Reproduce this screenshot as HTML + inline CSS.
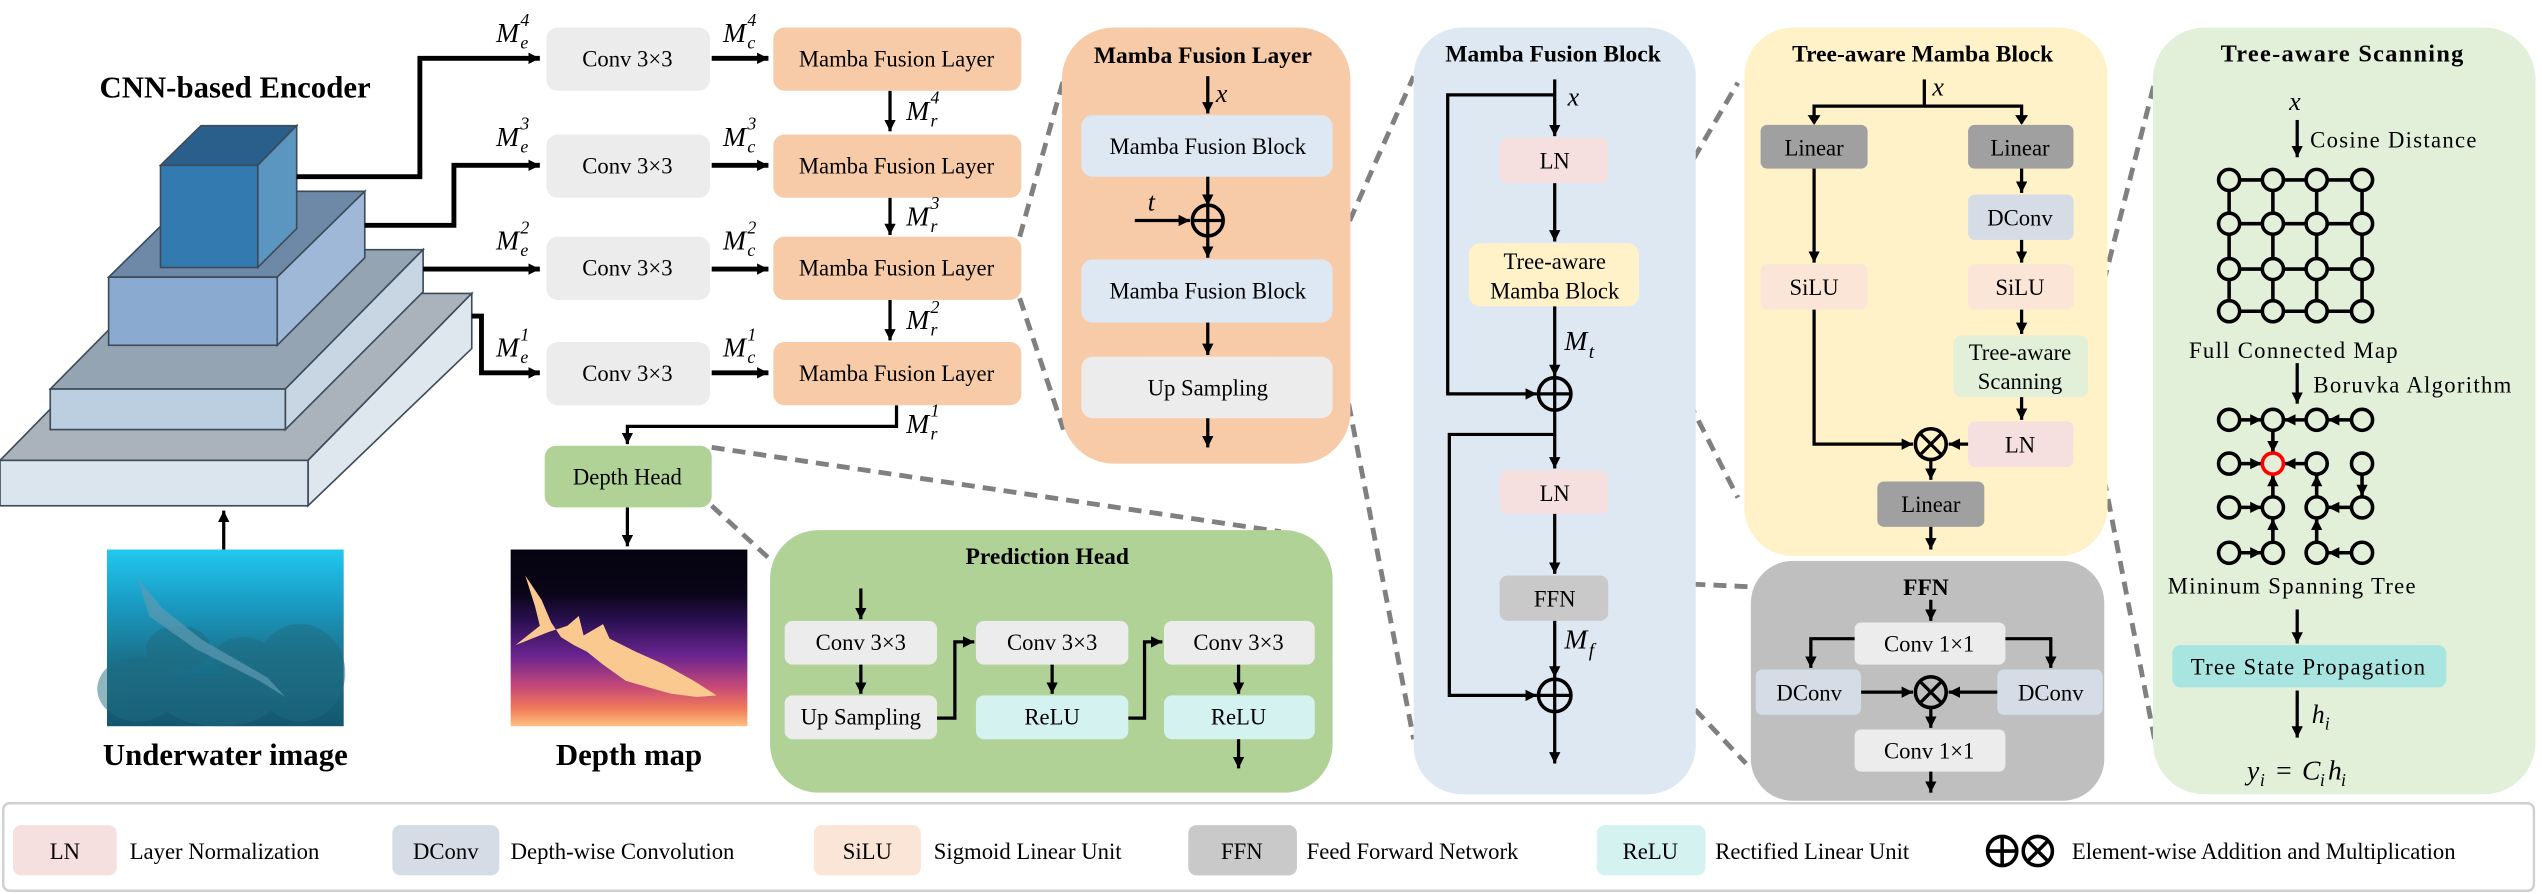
<!DOCTYPE html>
<html><head><meta charset="utf-8"><style>
html,body{margin:0;padding:0;background:#fff;}
svg{display:block;}
svg text{font-family:"Liberation Serif","Times New Roman","DejaVu Serif","Noto Serif CJK SC",serif;}
</style></head><body>
<svg width="2542" height="894" viewBox="0 0 1568 551.5" preserveAspectRatio="none" xmlns="http://www.w3.org/2000/svg">
<defs>
<marker id="a" markerUnits="userSpaceOnUse" markerWidth="8" markerHeight="8" refX="7" refY="3.5" orient="auto"><path d="M0,0 L7,3.5 L0,7 z" fill="#000"/></marker>
<linearGradient id="uw" x1="0" y1="0" x2="0" y2="1"><stop offset="0" stop-color="#22c8ee"/><stop offset="0.3" stop-color="#1a9cc4"/><stop offset="0.6" stop-color="#1b7590"/><stop offset="1" stop-color="#14566e"/></linearGradient>
<linearGradient id="dm" x1="0" y1="0" x2="0" y2="1"><stop offset="0" stop-color="#05030f"/><stop offset="0.25" stop-color="#0a0518"/><stop offset="0.4" stop-color="#2a1050"/><stop offset="0.6" stop-color="#6a2490"/><stop offset="0.78" stop-color="#c84a78"/><stop offset="0.9" stop-color="#f07a5a"/><stop offset="1" stop-color="#fcc080"/></linearGradient>
</defs>
<g stroke="#3c4a5a" stroke-width="1">
<polygon points="0,284 190,284 291,181 101,181" fill="#aab3bb"/>
<polygon points="190,284 291,181 291,215 190,312" fill="#dfe7ee"/>
<rect x="0" y="284" width="190" height="28" fill="#dbe5ed"/>
<polygon points="31,240 176,240 261,154 116,154" fill="#94a4b2"/>
<polygon points="176,240 261,154 261,180 176,265" fill="#c8d6e4"/>
<rect x="31" y="240" width="145" height="25" fill="#bccfe0"/>
<polygon points="67,171 171,171 225,118 121,118" fill="#6e88a8"/>
<polygon points="171,171 225,118 225,159 171,213" fill="#9fb8d8"/>
<rect x="67" y="171" width="104" height="42" fill="#8aaad0"/>
<polygon points="99,102 159,102 183,77.5 124,77.5" fill="#2a5f8c"/>
<polygon points="159,102 183,77.5 183,141 159,165" fill="#5a96c0"/>
<rect x="99" y="102" width="60" height="63" fill="#327ab0"/>
</g>
<text x="145" y="60" font-size="19" font-weight="bold" text-anchor="middle">CNN-based Encoder</text>
<g fill="none" stroke="#000" stroke-width="3">
<polyline points="183,109 259,109 259,36 333,36" marker-end="url(#a)"/>
<polyline points="225,139 280,139 280,102 333,102" marker-end="url(#a)"/>
<polyline points="261,166 333,166" marker-end="url(#a)"/>
<polyline points="291,195 297,195 297,230 333,230" marker-end="url(#a)"/>
<line x1="439" y1="36" x2="474" y2="36" marker-end="url(#a)"/>
<line x1="439" y1="102" x2="474" y2="102" marker-end="url(#a)"/>
<line x1="439" y1="166" x2="474" y2="166" marker-end="url(#a)"/>
<line x1="439" y1="230" x2="474" y2="230" marker-end="url(#a)"/>
</g>
<g fill="none" stroke="#000" stroke-width="2">
<line x1="549" y1="56" x2="549" y2="81" marker-end="url(#a)"/>
<line x1="549" y1="122" x2="549" y2="145" marker-end="url(#a)"/>
<line x1="549" y1="185" x2="549" y2="210" marker-end="url(#a)"/>
<polyline points="553,250 553,263 387,263 387,274" marker-end="url(#a)"/>
<line x1="387" y1="313" x2="387" y2="337" marker-end="url(#a)"/>
<line x1="138" y1="339" x2="138" y2="315" marker-end="url(#a)"/>
</g>
<g font-size="14" text-anchor="middle">
<rect x="337" y="17" width="101" height="39" rx="7" fill="#ececec"/><text x="387" y="41">Conv 3×3</text>
<rect x="337" y="83" width="101" height="39" rx="7" fill="#ececec"/><text x="387" y="107">Conv 3×3</text>
<rect x="337" y="146" width="101" height="39" rx="7" fill="#ececec"/><text x="387" y="170">Conv 3×3</text>
<rect x="337" y="211" width="101" height="39" rx="7" fill="#ececec"/><text x="387" y="235">Conv 3×3</text>
<rect x="477" y="17" width="153" height="39" rx="7" fill="#f7cba7"/><text x="553" y="41">Mamba Fusion Layer</text>
<rect x="477" y="83" width="153" height="39" rx="7" fill="#f7cba7"/><text x="553" y="107">Mamba Fusion Layer</text>
<rect x="477" y="146" width="153" height="39" rx="7" fill="#f7cba7"/><text x="553" y="170">Mamba Fusion Layer</text>
<rect x="477" y="211" width="153" height="39" rx="7" fill="#f7cba7"/><text x="553" y="235">Mamba Fusion Layer</text>
<rect x="336" y="275" width="103" height="38" rx="7" fill="#b0d296"/><text x="387" y="299">Depth Head</text>
</g>
<g font-style="italic">
<text x="306" y="26" font-size="17">M</text><text x="321" y="16" font-size="11">4</text><text x="321" y="30" font-size="11">e</text>
<text x="306" y="90" font-size="17">M</text><text x="321" y="80" font-size="11">3</text><text x="321" y="94" font-size="11">e</text>
<text x="306" y="154" font-size="17">M</text><text x="321" y="144" font-size="11">2</text><text x="321" y="158" font-size="11">e</text>
<text x="306" y="220" font-size="17">M</text><text x="321" y="210" font-size="11">1</text><text x="321" y="224" font-size="11">e</text>
<text x="446" y="26" font-size="17">M</text><text x="461" y="16" font-size="11">4</text><text x="461" y="30" font-size="11">c</text>
<text x="446" y="90" font-size="17">M</text><text x="461" y="80" font-size="11">3</text><text x="461" y="94" font-size="11">c</text>
<text x="446" y="154" font-size="17">M</text><text x="461" y="144" font-size="11">2</text><text x="461" y="158" font-size="11">c</text>
<text x="446" y="220" font-size="17">M</text><text x="461" y="210" font-size="11">1</text><text x="461" y="224" font-size="11">c</text>
<text x="559" y="74" font-size="17">M</text><text x="574" y="64" font-size="11">4</text><text x="574" y="78" font-size="11">r</text>
<text x="559" y="139" font-size="17">M</text><text x="574" y="129" font-size="11">3</text><text x="574" y="143" font-size="11">r</text>
<text x="559" y="203" font-size="17">M</text><text x="574" y="193" font-size="11">2</text><text x="574" y="207" font-size="11">r</text>
<text x="559" y="267" font-size="17">M</text><text x="574" y="257" font-size="11">1</text><text x="574" y="271" font-size="11">r</text>
</g>
<rect x="66" y="339" width="146" height="109" fill="url(#uw)"/>
<g fill="#1f6b80" opacity="0.5">
<ellipse cx="85" cy="425" rx="25" ry="20"/><ellipse cx="135" cy="432" rx="35" ry="16"/><ellipse cx="185" cy="415" rx="28" ry="30"/><ellipse cx="150" cy="405" rx="18" ry="12"/><ellipse cx="110" cy="400" rx="20" ry="14"/>
</g>
<polygon points="85,357 92,380 120,400 160,420 176,430 165,418 125,395 100,375" fill="#5f9ab2" opacity="0.7"/>
<rect x="315" y="339" width="146" height="109" fill="url(#dm)"/>
<polygon points="324,355 330,374 333,386 318,398 338,390 350,386 357,380 360,392 372,385 376,394 392,402 410,410 428,420 442,429 430,430 414,428 400,424 386,420 372,410 362,402 354,398 346,393 340,384 334,370" fill="#f9c98f"/>
<text x="139" y="472" font-size="19" font-weight="bold" text-anchor="middle">Underwater image</text>
<text x="388" y="472" font-size="19" font-weight="bold" text-anchor="middle">Depth map</text>
<g stroke="#808080" stroke-width="3" stroke-dasharray="8,5" fill="none">
<line x1="629" y1="146" x2="658" y2="42"/>
<line x1="629" y1="184" x2="656" y2="265"/>
<line x1="822" y1="160" x2="872" y2="47"/>
<line x1="822" y1="198" x2="872" y2="456"/>
<line x1="1012" y1="154" x2="1072" y2="51"/>
<line x1="1012" y1="190" x2="1072" y2="307"/>
<line x1="992" y1="358" x2="1080" y2="362"/>
<line x1="992" y1="381" x2="1077" y2="471"/>
<line x1="1288" y1="212" x2="1329" y2="51"/>
<line x1="1288" y1="244" x2="1329" y2="456"/>
<line x1="439" y1="276" x2="790" y2="328"/>
<line x1="439" y1="312" x2="475" y2="345"/>
</g>
<rect x="475" y="327" width="347" height="162" rx="30" fill="#b0d296"/>
<text x="646" y="348" font-size="14.5" font-weight="bold" text-anchor="middle">Prediction Head</text>
<g font-size="14" text-anchor="middle">
<rect x="484" y="383" width="94" height="27" rx="5" fill="#ececec"/><text x="531" y="401">Conv 3×3</text>
<rect x="484" y="429" width="94" height="27" rx="5" fill="#ececec"/><text x="531" y="447">Up Sampling</text>
<rect x="602" y="383" width="94" height="27" rx="5" fill="#ececec"/><text x="649" y="401">Conv 3×3</text>
<rect x="602" y="429" width="94" height="27" rx="5" fill="#d4f2f0"/><text x="649" y="447">ReLU</text>
<rect x="718" y="383" width="93" height="27" rx="5" fill="#ececec"/><text x="764" y="401">Conv 3×3</text>
<rect x="718" y="429" width="93" height="27" rx="5" fill="#d4f2f0"/><text x="764" y="447">ReLU</text>
</g>
<g fill="none" stroke="#000" stroke-width="2">
<line x1="531" y1="363" x2="531" y2="382" marker-end="url(#a)"/>
<line x1="531" y1="410" x2="531" y2="428" marker-end="url(#a)"/>
<line x1="649" y1="410" x2="649" y2="428" marker-end="url(#a)"/>
<line x1="764" y1="410" x2="764" y2="428" marker-end="url(#a)"/>
<line x1="764" y1="456" x2="764" y2="474" marker-end="url(#a)"/>
<polyline points="578,443 589,443 589,396 601,396" marker-end="url(#a)"/>
<polyline points="696,443 706,443 706,396 717,396" marker-end="url(#a)"/>
</g>
<rect x="655" y="17" width="178" height="269" rx="32" fill="#f7cba7"/>
<text x="742" y="39" font-size="14.5" font-weight="bold" text-anchor="middle">Mamba Fusion Layer</text>
<g font-size="14" text-anchor="middle">
<rect x="667" y="71" width="155" height="38" rx="7" fill="#dde8f3"/><text x="745" y="95">Mamba Fusion Block</text>
<rect x="667" y="160" width="155" height="39" rx="7" fill="#dde8f3"/><text x="745" y="184">Mamba Fusion Block</text>
<rect x="667" y="220" width="155" height="38" rx="7" fill="#ececec"/><text x="745" y="244">Up Sampling</text>
</g>
<text x="750" y="63" font-size="16" font-style="italic">x</text>
<text x="708" y="130" font-size="16" font-style="italic">t</text>
<g fill="none" stroke="#000" stroke-width="2">
<line x1="745" y1="47" x2="745" y2="70" marker-end="url(#a)"/>
<line x1="745" y1="109" x2="745" y2="127" marker-end="url(#a)"/>
<line x1="745" y1="146" x2="745" y2="159" marker-end="url(#a)"/>
<line x1="700" y1="136" x2="734" y2="136" marker-end="url(#a)"/>
<line x1="745" y1="199" x2="745" y2="219" marker-end="url(#a)"/>
<line x1="745" y1="258" x2="745" y2="276" marker-end="url(#a)"/>
<circle cx="745" cy="136" r="9.5" stroke-width="2.2"/><line x1="735.5" y1="136" x2="754.5" y2="136"/><line x1="745" y1="126.5" x2="745" y2="145.5"/>
</g>
<rect x="872" y="17" width="174" height="473" rx="30" fill="#dde8f3"/>
<text x="958" y="38" font-size="14.5" font-weight="bold" text-anchor="middle">Mamba Fusion Block</text>
<g font-size="14" text-anchor="middle">
<rect x="925" y="85" width="67" height="28" rx="5" fill="#f5dfdf"/><text x="959" y="104">LN</text>
<rect x="906" y="150" width="105" height="39" rx="7" fill="#fff1c8"/><text x="959" y="166">Tree-aware</text><text x="959" y="184">Mamba Block</text>
<rect x="925" y="290" width="67" height="27" rx="5" fill="#f5dfdf"/><text x="959" y="309">LN</text>
<rect x="925" y="355" width="67" height="28" rx="5" fill="#c9c9c9"/><text x="959" y="374">FFN</text>
</g>
<text x="967" y="65" font-size="16" font-style="italic">x</text>
<text x="965" y="216" font-size="17" font-style="italic">M</text><text x="980" y="221" font-size="12" font-style="italic">t</text>
<text x="965" y="400" font-size="17" font-style="italic">M</text><text x="980" y="405" font-size="12" font-style="italic">f</text>
<g fill="none" stroke="#000" stroke-width="2">
<line x1="959" y1="49" x2="959" y2="84" marker-end="url(#a)"/>
<line x1="959" y1="113" x2="959" y2="149" marker-end="url(#a)"/>
<line x1="959" y1="189" x2="959" y2="232" marker-end="url(#a)"/>
<polyline points="959,58.5 893,58.5 893,243 948,243" marker-end="url(#a)"/>
<line x1="959" y1="253" x2="959" y2="289" marker-end="url(#a)"/>
<polyline points="959,268 894,268 894,429 948,429" marker-end="url(#a)"/>
<line x1="959" y1="317" x2="959" y2="354" marker-end="url(#a)"/>
<line x1="959" y1="383" x2="959" y2="418" marker-end="url(#a)"/>
<line x1="959" y1="439" x2="959" y2="471" marker-end="url(#a)"/>
<circle cx="959" cy="243" r="10" stroke-width="2.2"/><line x1="949" y1="243" x2="969" y2="243"/><line x1="959" y1="233" x2="959" y2="253"/>
<circle cx="959" cy="429" r="10" stroke-width="2.2"/><line x1="949" y1="429" x2="969" y2="429"/><line x1="959" y1="419" x2="959" y2="439"/>
</g>
<rect x="1076" y="17" width="224" height="326" rx="30" fill="#fff1c8"/>
<text x="1186" y="38" font-size="14.5" font-weight="bold" text-anchor="middle">Tree-aware Mamba Block</text>
<text x="1192" y="59" font-size="16" font-style="italic">x</text>
<g font-size="14" text-anchor="middle">
<rect x="1086" y="77" width="66" height="27" rx="4" fill="#a0a0a0"/><text x="1119" y="96">Linear</text>
<rect x="1214" y="77" width="65" height="27" rx="4" fill="#a0a0a0"/><text x="1246" y="96">Linear</text>
<rect x="1214" y="120" width="65" height="28" rx="4" fill="#d5dce6"/><text x="1246" y="139">DConv</text>
<rect x="1086" y="163" width="66" height="28" rx="4" fill="#fbe5d6"/><text x="1119" y="182">SiLU</text>
<rect x="1214" y="163" width="65" height="28" rx="4" fill="#fbe5d6"/><text x="1246" y="182">SiLU</text>
<rect x="1205" y="207" width="83" height="38" rx="5" fill="#e2f0d9"/><text x="1246" y="222">Tree-aware</text><text x="1246" y="240">Scanning</text>
<rect x="1214" y="260" width="65" height="28" rx="4" fill="#f5dfdf"/><text x="1246" y="279">LN</text>
<rect x="1158" y="297" width="66" height="28" rx="4" fill="#a0a0a0"/><text x="1191" y="316">Linear</text>
</g>
<g fill="none" stroke="#000" stroke-width="2">
<line x1="1187" y1="49" x2="1187" y2="66"/>
<polyline points="1119,76 1119,65.5 1247,65.5 1247,76"/>
<path d="M1115,71 L1119,77 L1123,71z M1243,71 L1247,77 L1251,71z" fill="#000" stroke="none"/>
<line x1="1119" y1="104" x2="1119" y2="162" marker-end="url(#a)"/>
<line x1="1247" y1="104" x2="1247" y2="119" marker-end="url(#a)"/>
<line x1="1247" y1="148" x2="1247" y2="162" marker-end="url(#a)"/>
<line x1="1247" y1="191" x2="1247" y2="206" marker-end="url(#a)"/>
<line x1="1247" y1="245" x2="1247" y2="259" marker-end="url(#a)"/>
<polyline points="1119,191 1119,274 1180,274" marker-end="url(#a)"/>
<line x1="1214" y1="274" x2="1202" y2="274" marker-end="url(#a)"/>
<line x1="1191" y1="284" x2="1191" y2="296" marker-end="url(#a)"/>
<line x1="1191" y1="325" x2="1191" y2="339" marker-end="url(#a)"/>
<circle cx="1191" cy="274" r="9.5" stroke-width="2.2"/><line x1="1184.3" y1="267.3" x2="1197.7" y2="280.7"/><line x1="1197.7" y1="267.3" x2="1184.3" y2="280.7"/>
</g>
<rect x="1080" y="346" width="218" height="148" rx="26" fill="#bfbfbf"/>
<text x="1188" y="367" font-size="14.5" font-weight="bold" text-anchor="middle">FFN</text>
<g font-size="14" text-anchor="middle">
<rect x="1144" y="384" width="93" height="26" rx="4" fill="#ececec"/><text x="1190" y="402">Conv 1×1</text>
<rect x="1083" y="413" width="65" height="28" rx="4" fill="#d5dce6"/><text x="1116" y="432">DConv</text>
<rect x="1232" y="413" width="65" height="28" rx="4" fill="#d5dce6"/><text x="1265" y="432">DConv</text>
<rect x="1144" y="450" width="93" height="26" rx="4" fill="#ececec"/><text x="1190" y="468">Conv 1×1</text>
</g>
<g fill="none" stroke="#000" stroke-width="2">
<line x1="1191" y1="370" x2="1191" y2="383" marker-end="url(#a)"/>
<polyline points="1144,394 1117,394 1117,412" marker-end="url(#a)"/>
<polyline points="1237,394 1265,394 1265,412" marker-end="url(#a)"/>
<line x1="1148" y1="427" x2="1180" y2="427" marker-end="url(#a)"/>
<line x1="1232" y1="427" x2="1202" y2="427" marker-end="url(#a)"/>
<line x1="1191" y1="437" x2="1191" y2="449" marker-end="url(#a)"/>
<line x1="1191" y1="476" x2="1191" y2="489" marker-end="url(#a)"/>
<circle cx="1191" cy="427" r="9.5" stroke-width="2.2"/><line x1="1184.3" y1="420.3" x2="1197.7" y2="433.7"/><line x1="1197.7" y1="420.3" x2="1184.3" y2="433.7"/>
</g>
<rect x="1328" y="17" width="236" height="473" rx="32" fill="#e2efd9"/>
<text x="1445" y="38" font-size="15" font-weight="bold" text-anchor="middle" letter-spacing="0.8">Tree-aware Scanning</text>
<text x="1412" y="68" font-size="16" font-style="italic">x</text>
<g font-size="14" letter-spacing="0.8">
<text x="1425" y="91">Cosine Distance</text>
<text x="1415" y="221" text-anchor="middle">Full Connected Map</text>
<text x="1427" y="242">Boruvka Algorithm</text>
<text x="1414" y="366" text-anchor="middle">Mininum Spanning Tree</text>
</g>
<g fill="none" stroke="#000" stroke-width="2">
<line x1="1417" y1="74" x2="1417" y2="97" marker-end="url(#a)"/>
<line x1="1417" y1="224" x2="1417" y2="249" marker-end="url(#a)"/>
<line x1="1417" y1="376" x2="1417" y2="397" marker-end="url(#a)"/>
<line x1="1417" y1="426" x2="1417" y2="455" marker-end="url(#a)"/>
<g stroke-width="2.2">
<line x1="1375" y1="111" x2="1457" y2="111"/><line x1="1375" y1="138" x2="1457" y2="138"/><line x1="1375" y1="166" x2="1457" y2="166"/><line x1="1375" y1="192" x2="1457" y2="192"/>
<line x1="1375" y1="111" x2="1375" y2="192"/><line x1="1402" y1="111" x2="1402" y2="192"/><line x1="1429" y1="111" x2="1429" y2="192"/><line x1="1457" y1="111" x2="1457" y2="192"/>
</g>
<g fill="#e2efd9" stroke-width="2.2">
<circle cx="1375" cy="111" r="6.5"/><circle cx="1402" cy="111" r="6.5"/><circle cx="1429" cy="111" r="6.5"/><circle cx="1457" cy="111" r="6.5"/>
<circle cx="1375" cy="138" r="6.5"/><circle cx="1402" cy="138" r="6.5"/><circle cx="1429" cy="138" r="6.5"/><circle cx="1457" cy="138" r="6.5"/>
<circle cx="1375" cy="166" r="6.5"/><circle cx="1402" cy="166" r="6.5"/><circle cx="1429" cy="166" r="6.5"/><circle cx="1457" cy="166" r="6.5"/>
<circle cx="1375" cy="192" r="6.5"/><circle cx="1402" cy="192" r="6.5"/><circle cx="1429" cy="192" r="6.5"/><circle cx="1457" cy="192" r="6.5"/>
</g>
<g stroke-width="2.2">
<line x1="1381" y1="259" x2="1395" y2="259" marker-end="url(#a)"/>
<line x1="1423" y1="259" x2="1409" y2="259" marker-end="url(#a)"/>
<line x1="1451" y1="259" x2="1436" y2="259" marker-end="url(#a)"/>
<line x1="1402" y1="265" x2="1402" y2="279" marker-end="url(#a)"/>
<line x1="1381" y1="286" x2="1395" y2="286" marker-end="url(#a)"/>
<line x1="1423" y1="286" x2="1409" y2="286" marker-end="url(#a)"/>
<line x1="1457" y1="292" x2="1457" y2="306" marker-end="url(#a)"/>
<line x1="1381" y1="313" x2="1395" y2="313" marker-end="url(#a)"/>
<line x1="1402" y1="307" x2="1402" y2="293" marker-end="url(#a)"/>
<line x1="1451" y1="313" x2="1436" y2="313" marker-end="url(#a)"/>
<line x1="1429" y1="307" x2="1429" y2="293" marker-end="url(#a)"/>
<line x1="1381" y1="341" x2="1395" y2="341" marker-end="url(#a)"/>
<line x1="1402" y1="335" x2="1402" y2="320" marker-end="url(#a)"/>
<line x1="1451" y1="341" x2="1436" y2="341" marker-end="url(#a)"/>
<line x1="1429" y1="335" x2="1429" y2="320" marker-end="url(#a)"/>
</g>
<g fill="#e2efd9" stroke-width="2.2">
<circle cx="1375" cy="259" r="6.5"/><circle cx="1402" cy="259" r="6.5"/><circle cx="1429" cy="259" r="6.5"/><circle cx="1457" cy="259" r="6.5"/>
<circle cx="1375" cy="286" r="6.5"/><circle cx="1402" cy="286" r="6.5" stroke="#ff0000"/><circle cx="1429" cy="286" r="6.5"/><circle cx="1457" cy="286" r="6.5"/>
<circle cx="1375" cy="313" r="6.5"/><circle cx="1402" cy="313" r="6.5"/><circle cx="1429" cy="313" r="6.5"/><circle cx="1457" cy="313" r="6.5"/>
<circle cx="1375" cy="341" r="6.5"/><circle cx="1402" cy="341" r="6.5"/><circle cx="1429" cy="341" r="6.5"/><circle cx="1457" cy="341" r="6.5"/>
</g>
</g>
<rect x="1340" y="398" width="169" height="26" rx="5" fill="#a8e4e0"/>
<text x="1424" y="416" font-size="14" text-anchor="middle" letter-spacing="0.8">Tree State Propagation</text>
<text x="1426" y="446" font-size="16" font-style="italic">h</text><text x="1434" y="450" font-size="11" font-style="italic">i</text>
<text x="1386" y="481" font-size="17" font-style="italic">y</text><text x="1394" y="485" font-size="11" font-style="italic">i</text>
<text x="1404" y="481" font-size="17">=</text>
<text x="1420" y="481" font-size="17" font-style="italic">C</text><text x="1431" y="485" font-size="11" font-style="italic">i</text>
<text x="1436" y="481" font-size="17" font-style="italic">h</text><text x="1444" y="485" font-size="11" font-style="italic">i</text>
<rect x="2" y="495.5" width="1561" height="54" rx="4" fill="#fff" stroke="#d0d0d0" stroke-width="1.5"/>
<g font-size="14">
<rect x="8" y="509" width="64" height="31" rx="5" fill="#f5dfdf"/><text x="40" y="530" text-anchor="middle">LN</text><text x="80" y="530">Layer Normalization</text>
<rect x="242" y="509" width="66" height="31" rx="5" fill="#d5dce6"/><text x="275" y="530" text-anchor="middle">DConv</text><text x="315" y="530">Depth-wise Convolution</text>
<rect x="502" y="509" width="66" height="31" rx="5" fill="#fbe5d6"/><text x="535" y="530" text-anchor="middle">SiLU</text><text x="576" y="530">Sigmoid Linear Unit</text>
<rect x="733" y="509" width="67" height="31" rx="5" fill="#c9c9c9"/><text x="766" y="530" text-anchor="middle">FFN</text><text x="806" y="530">Feed Forward Network</text>
<rect x="985" y="509" width="67" height="31" rx="5" fill="#d4f2f0"/><text x="1018" y="530" text-anchor="middle">ReLU</text><text x="1058" y="530">Rectified Linear Unit</text>
<text x="1278" y="530">Element-wise Addition and Multiplication</text>
</g>
<g fill="none" stroke="#000" stroke-width="2.2">
<circle cx="1235" cy="525" r="9"/><line x1="1226" y1="525" x2="1244" y2="525"/><line x1="1235" y1="516" x2="1235" y2="534"/>
<circle cx="1257" cy="525" r="9"/><line x1="1250.6" y1="518.6" x2="1263.4" y2="531.4"/><line x1="1263.4" y1="518.6" x2="1250.6" y2="531.4"/>
</g>
</svg>
</body></html>
